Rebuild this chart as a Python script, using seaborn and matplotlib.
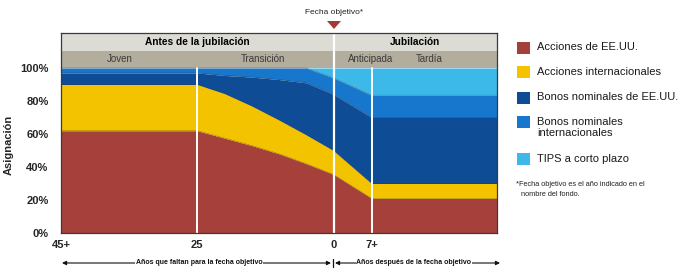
import numpy as np
import pandas as pd
import seaborn as sns
import matplotlib.pyplot as plt
from matplotlib.patches import Rectangle, Polygon

# -------------------------------------------------
# Data
# -------------------------------------------------
# years to target date; 45+ sits at 50 on the axis, the right end at -30
years = [50, 25, 20, 15, 10, 5, 0, -7, -30]
us_stocks = [62, 62, 57.5, 53, 48, 42, 35.5, 21, 21]
intl_stocks = [28, 28, 27, 24, 20.5, 17.5, 14.5, 9, 9]
us_bonds = [7, 7, 11, 17.5, 24.5, 31.5, 34, 40, 40]
intl_bonds = [3, 3, 4.5, 5.5, 7, 9, 10, 13.5, 13.5]
tips = [0, 0, 0, 0, 0, 0, 6, 16.5, 16.5]

series_names = ['Acciones de EE.UU.', 'Acciones internacionales',
                'Bonos nominales de EE.UU.', 'Bonos nominales\ninternacionales',
                'TIPS a corto plazo']
colors = ['#a5403a', '#f3c300', '#0e4c95', '#1777cc', '#3cb9e8']

tick_pos = [50, 25, 0, -7]
tick_labels = ['45+', '25', '0', '7+']
y_ticks = [0, 20, 40, 60, 80, 100]

phases = ['Antes de la jubilación', 'Jubilación']
phase_x = [25, -15]
stages = ['Joven', 'Transición', 'Anticipada', 'Tardía']
stage_x = [39.3, 13, -6.8, -17.6]

W, H = 681, 276


def fx(px):
    return px / W


def fy(py):
    return 1 - py / H


sns.set_style('white')
plt.rcParams['font.family'] = ['Liberation Sans', 'DejaVu Sans']

fig = plt.figure(figsize=(W / 100, H / 100), dpi=100)
ax = fig.add_axes([fx(61), fy(233), fx(497) - fx(61), fy(33) - fy(233)])

YTOP = 121.2
ax.set_xlim(50, -30)
ax.set_ylim(0, YTOP)

# stacked areas
ax.stackplot(years, us_stocks, intl_stocks, us_bonds, intl_bonds, tips,
             colors=colors, linewidth=0)

# thin boundaries between layers
cum = np.cumsum([us_stocks, intl_stocks, us_bonds, intl_bonds], axis=0)
df = pd.DataFrame({'year': years * 4,
                   'top': cum.flatten(),
                   'layer': np.repeat(range(4), len(years))})
sns.lineplot(data=df, x='year', y='top', units='layer', estimator=None,
             color='#3a2a20', lw=0.4, alpha=0.45, ax=ax, legend=False)

# header bands
ax.axhspan(100, 110.3, color='#b3ad9d', lw=0)
ax.axhspan(110.3, YTOP, color='#dcdcd5', lw=0)
for txt, xp in zip(phases, phase_x):
    ax.text(xp, 115.8, txt, ha='center', va='center', fontsize=7.3,
            fontweight='bold', color='black')
for txt, xp in zip(stages, stage_x):
    ax.text(xp, 105.2, txt, ha='center', va='center', fontsize=7,
            color='#3a3a3a')

# white guide lines
ax.plot([25, 25], [0, 100], color='white', lw=1.4)
ax.plot([-7, -7], [0, 100], color='white', lw=1.4)
ax.plot([0, 0], [0, 126], color='white', lw=1.6, clip_on=False)

# axes styling
ax.set_xticks(tick_pos)
ax.set_xticklabels(tick_labels)
ax.set_yticks(y_ticks)
ax.set_yticklabels([f'{v}%' for v in y_ticks])
ax.tick_params(axis='both', length=0, labelsize=8)
ax.tick_params(axis='x', pad=5)
ax.tick_params(axis='y', pad=9)
for lab in ax.get_xticklabels() + ax.get_yticklabels():
    lab.set_fontweight('bold')
ax.set_xlabel('')
ax.set_ylabel('Asignación', fontsize=8, fontweight='bold')
ax.yaxis.set_label_coords(-0.108, 0.44)
for s in ax.spines.values():
    s.set_color('#3a3a3a')
    s.set_linewidth(0.9)

# target date marker
fig.text(fx(334), fy(12), 'Fecha objetivo*', ha='center', va='center',
         fontsize=6, color='#222')
fig.patches.append(Polygon([(fx(327), fy(21)), (fx(341), fy(21)), (fx(334), fy(29))],
                           closed=True, transform=fig.transFigure,
                           color='#a33a35', lw=0))

# bottom arrows
ay = fy(263)
for x0, x1, txt, xc in [(62, 331, 'Años que faltan para la fecha objetivo', 199),
                        (335, 500, 'Años después de la fecha objetivo', 414)]:
    ax.annotate('', xy=(fx(x0), ay), xytext=(fx(x1), ay), xycoords='figure fraction',
                arrowprops=dict(arrowstyle='<|-|>', color='#111', lw=0.8,
                                mutation_scale=6, shrinkA=0, shrinkB=0))
    fig.text(fx(xc), ay, txt, ha='center', va='center', fontsize=5,
             fontweight='bold', color='#111',
             bbox=dict(facecolor='white', edgecolor='none', pad=0.6))
fig.lines.append(plt.Line2D([fx(333), fx(333)], [fy(259), fy(267)],
                            transform=fig.transFigure, color='#111', lw=0.9))

# legend
leg_y = [47.5, 72, 97.5, 122, 159]
text_y = [47.5, 72, 97.5, 127.5, 159]
for c, name, sy, ty in zip(colors, series_names, leg_y, text_y):
    fig.patches.append(Rectangle((fx(517), fy(sy + 6)), fx(13), 12 / H,
                                 transform=fig.transFigure, color=c, lw=0))
    fig.text(fx(537), fy(ty), name, ha='left', va='center', fontsize=8,
             color='#1a1a1a', linespacing=1.15)

fig.text(fx(516), fy(184), '*Fecha objetivo es el año indicado en el',
         ha='left', va='center', fontsize=5.3, color='#222')
fig.text(fx(521), fy(195), 'nombre del fondo.',
         ha='left', va='center', fontsize=5.3, color='#222')

fig.savefig('out.png', dpi=100)
